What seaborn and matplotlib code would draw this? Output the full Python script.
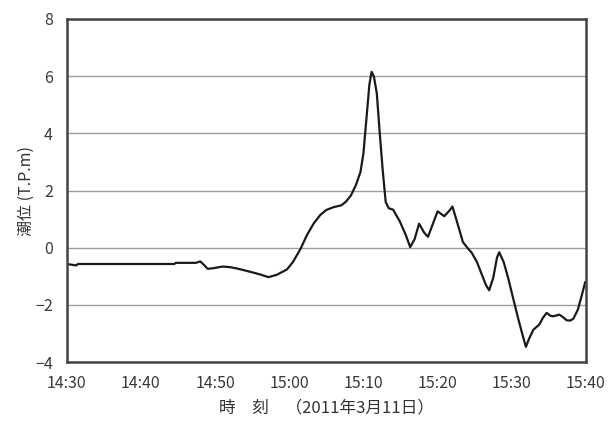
import matplotlib
matplotlib.use("Agg")
import matplotlib.pyplot as plt
import seaborn as sns
import pandas as pd

# Tide level record, minutes after 14:30 on 2011-03-11
minutes = [0, 1.3, 1.5, 14.5, 14.7, 17.4, 18.0, 18.5, 19.0, 19.7, 21.0, 22.0, 23.0,
           24.7, 26.0, 27.2, 28.3, 29.7, 30.5, 31.5, 32.4, 33.3, 34.2, 35.0, 36.0,
           37.0, 37.6, 38.3, 39.0, 39.6, 40.0, 40.4, 40.8, 41.1, 41.4, 41.8, 42.2,
           42.6, 43.0, 43.4, 44.0, 44.9, 45.7, 46.3, 46.9, 47.5, 48.2, 48.7, 49.4,
           50.0, 50.9, 51.6, 52.0, 52.8, 53.4, 54.0, 54.6, 55.3, 55.9, 56.5, 56.95,
           57.5, 58.0, 58.3, 58.9, 59.5, 60.0, 60.9, 61.5, 61.9, 62.3, 62.9, 63.7,
           64.2, 64.7, 65.2, 65.6, 66.4, 67.0, 67.4, 67.9, 68.3, 68.9, 69.4, 69.9]
level = [-0.57, -0.62, -0.57, -0.57, -0.53, -0.53, -0.48, -0.60, -0.74, -0.72, -0.66,
         -0.68, -0.73, -0.84, -0.93, -1.03, -0.95, -0.76, -0.50, -0.05, 0.45, 0.85,
         1.15, 1.32, 1.42, 1.48, 1.60, 1.82, 2.20, 2.65, 3.30, 4.50, 5.70, 6.15, 6.00,
         5.40, 4.00, 2.70, 1.60, 1.38, 1.33, 0.92, 0.45, 0.02, 0.30, 0.84, 0.52, 0.38,
         0.86, 1.27, 1.10, 1.30, 1.44, 0.74, 0.20, 0.00, -0.18, -0.50, -0.90, -1.30,
         -1.49, -1.05, -0.35, -0.16, -0.50, -1.05, -1.58, -2.52, -3.10, -3.47, -3.20,
         -2.87, -2.69, -2.45, -2.28, -2.38, -2.40, -2.34, -2.45, -2.54, -2.55, -2.48,
         -2.17, -1.70, -1.20]

tick_minutes = [0, 10, 20, 30, 40, 50, 60, 70]
tick_labels = ["14:30", "14:40", "14:50", "15:00", "15:10", "15:20", "15:30", "15:40"]
y_ticks = [-4, -2, 0, 2, 4, 6, 8]

sns.set_theme(style="white")
plt.rcParams["font.family"] = ["Noto Sans CJK JP", "DejaVu Sans"]

df = pd.DataFrame({"t": minutes, "level": level})

fig = plt.figure(figsize=(6.12, 4.21), dpi=100)
ax = fig.add_axes([0.109, 0.140, 0.8485, 0.815])

for yv in y_ticks:
    ax.axhline(yv, color="#9d9d9d", lw=1.0, zorder=0)

sns.lineplot(data=df, x="t", y="level", ax=ax, color="#1a1a1a", lw=1.6)

ax.set_xlim(0, 70)
ax.set_ylim(-4, 8)
ax.set_xticks(tick_minutes)
ax.set_xticklabels(tick_labels)
ax.set_yticks(y_ticks)
ax.tick_params(axis="both", labelsize=11.5, colors="#3a3a3a", length=3, width=1,
               direction="out")
ax.tick_params(axis="y", pad=7)
ax.tick_params(axis="x", length=0, pad=9)
for s in ax.spines.values():
    s.set_color("#444444")
    s.set_linewidth(1.8)

ax.set_xlabel("時　刻　（2011年3月11日）", fontsize=12, color="#333333", labelpad=6)
ax.set_ylabel("潮位 (T.P.m)", fontsize=11.5, color="#333333", labelpad=0)

fig.savefig("out.png", dpi=100)
